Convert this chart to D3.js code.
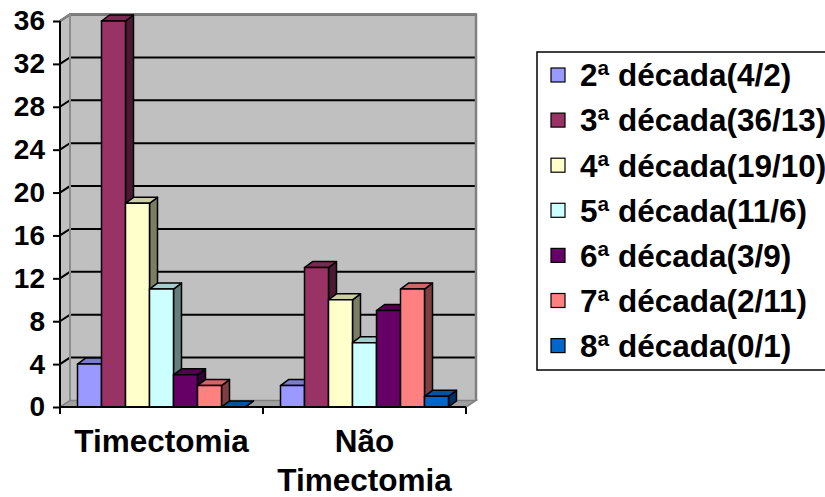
<!DOCTYPE html>
<html>
<head>
<meta charset="utf-8">
<script src="https://cdn.jsdelivr.net/npm/d3@7"></script>
<style>
  html, body { margin: 0; padding: 0; background: #fff; }
  svg { display: block; }
  text { font-family: "Liberation Sans", Arial, sans-serif; font-weight: bold; fill: #000; }
</style>
</head>
<body>
<svg id="chart" width="825" height="497"></svg>
<script>
// Categories (x axis groups), one line per label row
const categories = ["Timectomia", "Não Timectomia"];
const categoryLines = [["Timectomia"], ["Não", "Timectomia"]];

// Series: age decades, values for [Timectomia, Não Timectomia]
const seriesNames = [
  "2ª década(4/2)", "3ª década(36/13)", "4ª década(19/10)", "5ª década(11/6)",
  "6ª década(3/9)", "7ª década(2/11)", "8ª década(0/1)"
];
const timectomia    = [4, 36, 19, 11, 3, 2, 0];
const naoTimectomia = [2, 13, 10, 6, 9, 11, 1];
const seriesColors = ["#9999FF", "#993366", "#FFFFCC", "#CCFFFF", "#660066", "#FF8080", "#0066CC"];

const yTicks = [0, 4, 8, 12, 16, 20, 24, 28, 32, 36];

const values = [timectomia, naoTimectomia];

const svg = d3.select("#chart");

// Plot geometry (front plane) and 3D depth offsets
const plotLeft = 60, plotRight = 466, plotBottom = 407, plotTop = 21;
const WX = 10, WY = -6.5;   // wall depth
const BX = 8, BY = -6;      // bar depth

const y = d3.scaleLinear().domain([0, 36]).range([plotBottom, plotTop]);
const x0 = d3.scaleBand().domain(categories).range([plotLeft, plotRight]);
const groupW = 168;
const x1 = d3.scaleBand().domain(seriesNames)
  .range([(x0.bandwidth() - groupW) / 2, (x0.bandwidth() + groupW) / 2]);

const g = svg.append("g");

// Back wall
g.append("rect")
  .attr("x", plotLeft + WX).attr("y", y(36) + WY)
  .attr("width", plotRight - plotLeft).attr("height", y(0) - y(36))
  .attr("fill", "#C0C0C0");

// Side wall
g.append("polygon")
  .attr("points", [[plotLeft, y(36)], [plotLeft + WX, y(36) + WY], [plotLeft + WX, y(0) + WY], [plotLeft, y(0)]].join(" "))
  .attr("fill", "#C0C0C0");

// Floor
g.append("polygon")
  .attr("points", [[plotLeft, y(0)], [plotRight, y(0)], [plotRight + WX, y(0) + WY], [plotLeft + WX, y(0) + WY]].join(" "))
  .attr("fill", "#A0A0A0").attr("stroke", "#808080").attr("stroke-width", 1.5);

// Gridlines across side and back walls
yTicks.filter(v => v > 0).forEach(v => {
  g.append("polyline")
    .attr("points", [[plotLeft, y(v)], [plotLeft + WX, y(v) + WY], [plotRight + WX, y(v) + WY]].join(" "))
    .attr("fill", "none").attr("stroke", "#000").attr("stroke-width", 2);
});

// Wall edges
g.append("polyline")
  .attr("points", [[plotLeft, y(36)], [plotLeft + WX, y(36) + WY], [plotRight + WX, y(36) + WY], [plotRight + WX, y(0) + WY]].join(" "))
  .attr("fill", "none").attr("stroke", "#808080").attr("stroke-width", 2.5);
g.append("line")
  .attr("x1", plotLeft + WX).attr("x2", plotLeft + WX)
  .attr("y1", y(36) + WY).attr("y2", y(0) + WY)
  .attr("stroke", "#8C8C8C").attr("stroke-width", 2);

// 3D bars, drawn left to right so each front covers the previous side
const bars = g.append("g");
categories.forEach((cat, ci) => {
  seriesNames.forEach((s, si) => {
    const v = values[ci][si];
    const c = d3.color(seriesColors[si]);
    const xl = x0(cat) + x1(s), xr = xl + x1.bandwidth();
    const yt = y(v), yb = y(0);
    const bar = bars.append("g").attr("stroke", "#000").attr("stroke-width", 1.5).attr("stroke-linejoin", "round");
    // side face
    bar.append("polygon")
      .attr("points", [[xr, yt], [xr + BX, yt + BY], [xr + BX, yb + BY], [xr, yb]].join(" "))
      .attr("fill", c.darker(2).formatHex());
    // top face
    bar.append("polygon")
      .attr("points", [[xl, yt], [xl + BX, yt + BY], [xr + BX, yt + BY], [xr, yt]].join(" "))
      .attr("fill", c.darker(0.6).formatHex());
    // front face
    if (v > 0) {
      bar.append("rect")
        .attr("x", xl).attr("y", yt)
        .attr("width", xr - xl).attr("height", yb - yt)
        .attr("fill", c.formatHex());
    }
  });
});

// Y axis
const yAxis = d3.axisLeft(y).tickValues(yTicks).tickSize(7).tickPadding(8).tickFormat(d3.format("d"));
const ya = svg.append("g").attr("transform", `translate(${plotLeft},0)`).call(yAxis);
ya.select(".domain").attr("stroke", "#000").attr("stroke-width", 2).attr("d", `M0,${y(36)}V${y(0)}`);
ya.selectAll(".tick line").attr("stroke", "#000").attr("stroke-width", 2);
ya.selectAll(".tick text").attr("font-size", 28).attr("font-family", "Liberation Sans, Arial, sans-serif")
  .attr("font-weight", "bold").attr("fill", "#000");

// X axis line and ticks at the group boundaries
const xa = svg.append("g");
xa.append("line").attr("x1", plotLeft).attr("x2", plotRight).attr("y1", y(0)).attr("y2", y(0))
  .attr("stroke", "#000").attr("stroke-width", 2);
const bounds = categories.map(c => x0(c)).concat([x0(categories[categories.length - 1]) + x0.bandwidth()]);
xa.selectAll("line.tk").data(bounds).join("line").attr("class", "tk")
  .attr("x1", d => d).attr("x2", d => d).attr("y1", y(0)).attr("y2", y(0) + 7)
  .attr("stroke", "#000").attr("stroke-width", 2);

// Category labels
categories.forEach((cat, ci) => {
  const cx = x0(cat) + x0.bandwidth() / 2;
  const t = svg.append("text")
    .attr("x", cx).attr("y", 452)
    .attr("text-anchor", "middle").attr("font-size", 31.5);
  categoryLines[ci].forEach((line, li) => {
    t.append("tspan").attr("x", cx).attr("dy", li === 0 ? 0 : 39).text(line);
  });
});

// Legend
const lg = svg.append("g");
lg.append("rect").attr("x", 537).attr("y", 52).attr("width", 320).attr("height", 318)
  .attr("fill", "#fff").attr("stroke", "#000").attr("stroke-width", 1.5);
const rows = lg.selectAll("g.row").data(seriesNames).join("g").attr("class", "row")
  .attr("transform", (d, i) => `translate(0,${75 + i * 45.1})`);
rows.append("rect").attr("x", 551).attr("y", -7).attr("width", 14).attr("height", 14)
  .attr("fill", (d, i) => seriesColors[i]).attr("stroke", "#000").attr("stroke-width", 1.2);
rows.append("text").attr("x", 580).attr("y", 0).attr("dy", "0.36em")
  .attr("font-size", 31.5).text(d => d);
</script>
</body>
</html>
